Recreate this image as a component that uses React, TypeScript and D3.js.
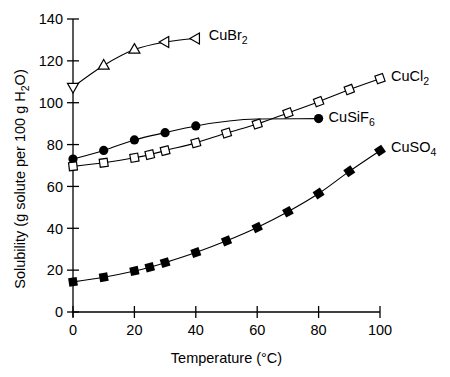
import React from "react";
import * as d3 from "d3";

// ---- Data ----
const xTicks = [0, 20, 40, 60, 80, 100];
const yTicks = [0, 20, 40, 60, 80, 100, 120, 140];

const cuBr2Temps = [0, 10, 20, 30, 40];
const cuBr2Values = [107.5, 117.8, 125.4, 129.0, 130.7];
const cuBr2Markers = ["down", "up", "up", "left", "left"];

const cuCl2Temps = [0, 10, 20, 25, 30, 40, 50, 60, 70, 80, 90, 100];
const cuCl2Values = [69.6, 71.3, 73.7, 75.2, 77.1, 80.8, 85.5, 89.8, 95.1, 100.5, 106.3, 111.5];

const cuSiF6Temps = [0, 10, 20, 30, 40, 60, 80];
const cuSiF6Values = [73.1, 77.2, 82.2, 85.7, 88.9, 92.2, 92.4];
const cuSiF6Marked = [true, true, true, true, true, false, true];

const cuSO4Temps = [0, 10, 20, 25, 30, 40, 50, 60, 70, 80, 90, 100];
const cuSO4Values = [14.4, 16.6, 19.6, 21.4, 23.6, 28.4, 34.0, 40.4, 47.9, 56.6, 67.2, 77.1];

const W = 450;
const H = 377;
const FONT = "'Liberation Sans', Arial, Helvetica, sans-serif";
const FS = 14.5;

const x = d3.scaleLinear().domain([0, 100]).range([73, 380]);
const y = d3.scaleLinear().domain([0, 140]).range([312, 19]);

type P = [number, number];
const zip = (ts: number[], vs: number[]): P[] => ts.map((t, i) => [t, vs[i]]);

const line = d3
  .line<P>()
  .x((d) => x(d[0]))
  .y((d) => y(d[1]))
  .curve(d3.curveMonotoneX);

function angleAt(pts: P[], i: number) {
  const a = pts[Math.max(0, i - 1)];
  const b = pts[Math.min(pts.length - 1, i + 1)];
  return (Math.atan2(y(b[1]) - y(a[1]), x(b[0]) - x(a[0])) * 180) / Math.PI;
}

function triPath(dir: string, s: number) {
  // equilateral-ish triangle centered at origin pointing in dir
  const h = s * 0.87;
  let pts: P[] = [
    [0, -h * 0.62],
    [s / 2, h * 0.38],
    [-s / 2, h * 0.38],
  ]; // up
  const rot = dir === "up" ? 0 : dir === "down" ? 180 : dir === "left" ? -90 : 90;
  const r = (rot * Math.PI) / 180;
  pts = pts.map(([px, py]) => [px * Math.cos(r) - py * Math.sin(r), px * Math.sin(r) + py * Math.cos(r)]);
  return "M" + pts.map((p) => p.join(",")).join("L") + "Z";
}

function Label({ px, py, main, sub, tail }: { px: number; py: number; main: string; sub: string; tail?: string }) {
  return (
    <text x={px} y={py} fontFamily={FONT} fontSize={FS} fill="#000">
      {main}
      <tspan fontSize={10.5} dy={4}>
        {sub}
      </tspan>
      {tail ? <tspan dy={-4}>{tail}</tspan> : null}
    </text>
  );
}

export default function App() {
  const br = zip(cuBr2Temps, cuBr2Values);
  const cl = zip(cuCl2Temps, cuCl2Values);
  const si = zip(cuSiF6Temps, cuSiF6Values);
  const so = zip(cuSO4Temps, cuSO4Values);

  const last = (a: P[]) => a[a.length - 1];

  return (
    <svg width={W} height={H} style={{ position: "absolute", left: 0, top: 0, background: "#fff" }}>
      <rect width={W} height={H} fill="#fff" />
      {/* Axes */}
      <g stroke="#000" strokeWidth={1.3} fill="none">
        <line x1={x(0)} x2={x(0)} y1={y(140)} y2={y(0) + 5} />
        <line x1={x(0)} x2={x(100)} y1={y(0)} y2={y(0)} />
        {yTicks.map((t) => (
          <line key={"yt" + t} x1={x(0) - 6} x2={x(0) + 6} y1={y(t)} y2={y(t)} />
        ))}
        {xTicks.map((t) => (
          <line key={"xt" + t} x1={x(t)} x2={x(t)} y1={y(0) - 6} y2={y(0) + 6} />
        ))}
      </g>
      <g fontFamily={FONT} fontSize={FS} fill="#000">
        {yTicks.map((t) => (
          <text key={"yl" + t} x={x(0) - 10} y={y(t)} dy="0.36em" textAnchor="end">
            {t}
          </text>
        ))}
        {xTicks.map((t) => (
          <text key={"xl" + t} x={x(t)} y={y(0) + 23} textAnchor="middle">
            {t}
          </text>
        ))}
        <text x={226.5} y={363} textAnchor="middle">
          Temperature (°C)
        </text>
        <text transform={`translate(25,179) rotate(-90)`} textAnchor="middle">
          Solubility (g solute per 100 g H
          <tspan fontSize={10.5} dy={4}>
            2
          </tspan>
          <tspan dy={-4}>O)</tspan>
        </text>
      </g>

      {/* Lines */}
      <g fill="none" stroke="#000" strokeWidth={1.1}>
        <path d={line(br) || ""} />
        <path d={line(cl) || ""} />
        <path d={line(si) || ""} />
        <path d={line(so) || ""} />
      </g>

      {/* CuBr2 markers */}
      {br.map((d, i) => (
        <path
          key={"br" + i}
          d={triPath(cuBr2Markers[i], 11)}
          transform={`translate(${x(d[0])},${y(d[1])})`}
          fill="#fff"
          stroke="#000"
          strokeWidth={1.2}
        />
      ))}
      {/* CuSiF6 markers */}
      {si.map((d, i) =>
        cuSiF6Marked[i] ? <circle key={"si" + i} cx={x(d[0])} cy={y(d[1])} r={4.6} fill="#000" /> : null
      )}
      {/* CuCl2 markers */}
      {cl.map((d, i) => (
        <rect
          key={"cl" + i}
          x={-4}
          y={-4}
          width={8}
          height={8}
          transform={`translate(${x(d[0])},${y(d[1])}) rotate(${angleAt(cl, i)})`}
          fill="#fff"
          stroke="#000"
          strokeWidth={1.2}
        />
      ))}
      {/* CuSO4 markers */}
      {so.map((d, i) => (
        <rect
          key={"so" + i}
          x={-4.3}
          y={-4.3}
          width={8.6}
          height={8.6}
          transform={`translate(${x(d[0])},${y(d[1])}) rotate(${angleAt(so, i)})`}
          fill="#000"
        />
      ))}

      {/* Labels */}
      <Label px={x(last(br)[0]) + 13} py={y(last(br)[1]) + 2} main="CuBr" sub="2" />
      <Label px={x(last(cl)[0]) + 11} py={y(last(cl)[1]) + 2.5} main="CuCl" sub="2" />
      <Label px={x(last(si)[0]) + 10} py={y(last(si)[1]) + 3} main="CuSiF" sub="6" />
      <Label px={x(last(so)[0]) + 11} py={y(last(so)[1]) + 1} main="CuSO" sub="4" />
    </svg>
  );
}
